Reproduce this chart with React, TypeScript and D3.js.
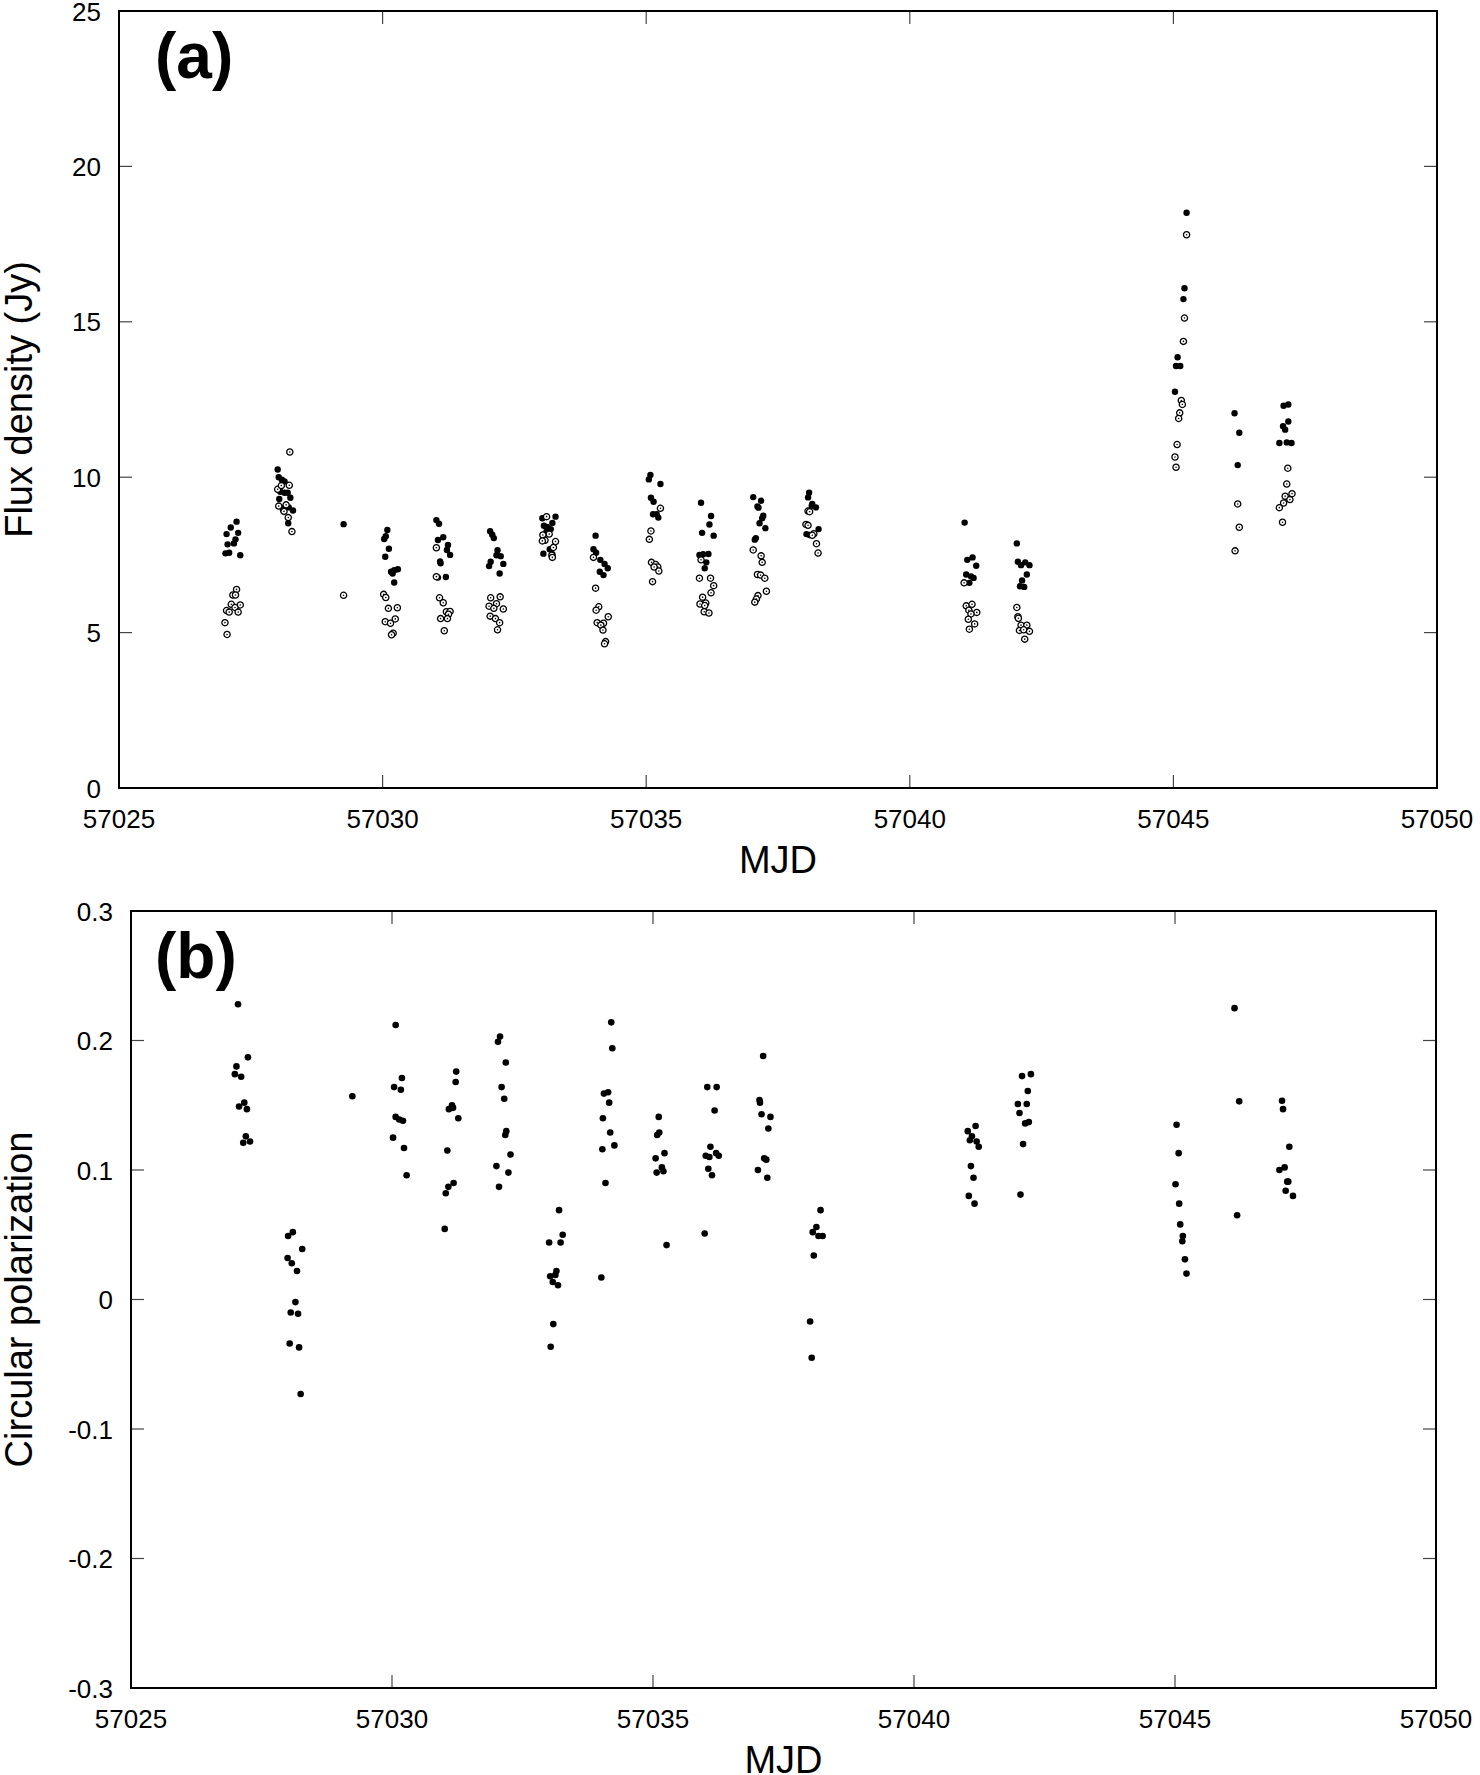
import React, { useEffect, useRef } from 'react';
import * as d3 from 'd3';

type Pt = [number, number];

// panel (a): flux density, filled dots
const fluxFilled: Pt[] = [
  [57027.23, 8.57], [57027.12, 8.38], [57027.04, 8.17], [57027.26, 8.21], [57027.21, 8.0], [57027.06, 7.84], [57027.18, 7.87], [57027.02, 7.55], [57027.09, 7.57], [57027.3, 7.49],
  [57028.01, 10.25], [57028.03, 10.0], [57028.09, 9.92], [57028.14, 9.86], [57028.06, 9.53], [57028.14, 9.5], [57028.2, 9.5], [57028.25, 9.34], [57028.04, 9.3], [57028.14, 9.03], [57028.22, 9.03], [57028.3, 8.93], [57028.11, 8.95], [57028.21, 8.52],
  [57029.26, 8.49],
  [57030.09, 8.3], [57030.06, 8.1], [57030.03, 8.01], [57030.12, 7.7], [57030.05, 7.44], [57030.16, 6.96], [57030.22, 7.01], [57030.29, 7.04], [57030.19, 6.9], [57030.22, 6.61],
  [57031.02, 8.62], [57031.07, 8.5], [57031.15, 8.07], [57031.05, 7.98], [57031.24, 7.82], [57031.22, 7.66], [57031.28, 7.5], [57031.09, 7.29], [57031.1, 7.23], [57031.2, 6.79], [57031.05, 6.77],
  [57032.04, 8.26], [57032.08, 8.15], [57032.11, 8.04], [57032.18, 7.65], [57032.16, 7.49], [57032.24, 7.46], [57032.05, 7.28], [57032.29, 7.21], [57032.02, 7.14], [57032.22, 6.9],
  [57033.03, 8.68], [57033.28, 8.73], [57033.06, 8.44], [57033.12, 8.4], [57033.22, 8.53], [57033.11, 8.26], [57033.19, 8.33], [57033.05, 7.54], [57033.17, 7.68], [57033.22, 7.52],
  [57034.04, 8.12], [57034.0, 7.68], [57034.05, 7.57], [57034.13, 7.34], [57034.21, 7.21], [57034.27, 7.07], [57034.12, 6.96], [57034.19, 6.85],
  [57035.08, 10.07], [57035.05, 9.93], [57035.27, 9.78], [57035.09, 9.34], [57035.14, 9.21], [57035.13, 8.81], [57035.2, 8.81], [57035.23, 8.7],
  [57036.04, 9.18], [57036.23, 8.75], [57036.2, 8.48], [57036.06, 8.21], [57036.28, 8.12], [57036.01, 7.5], [57036.08, 7.52], [57036.18, 7.53], [57036.14, 7.26], [57036.11, 7.07],
  [57037.03, 9.36], [57037.18, 9.24], [57037.11, 9.06], [57037.13, 9.02], [57037.22, 8.76], [57037.2, 8.68], [57037.15, 8.52], [57037.26, 8.36], [57037.08, 8.04], [57037.06, 7.99],
  [57038.09, 9.5], [57038.07, 9.35], [57038.15, 9.14], [57038.22, 9.03], [57038.14, 9.08], [57038.27, 8.33], [57038.04, 8.17], [57038.1, 8.14],
  [57041.04, 8.54], [57041.09, 7.34], [57041.19, 7.42], [57041.26, 7.15], [57041.07, 6.87], [57041.16, 6.81], [57041.21, 6.76], [57041.13, 6.6],
  [57042.03, 7.87], [57042.05, 7.28], [57042.11, 7.17], [57042.19, 7.26], [57042.27, 7.17], [57042.22, 6.87], [57042.13, 6.68], [57042.09, 6.49], [57042.17, 6.47],
  [57045.25, 18.51], [57045.21, 16.08], [57045.19, 15.73], [57045.08, 13.86], [57045.05, 13.58], [57045.13, 13.58], [57045.03, 12.75],
  [57046.16, 12.06], [57046.25, 11.43], [57046.22, 10.39],
  [57047.09, 12.3], [57047.18, 12.34], [57047.18, 11.79], [57047.08, 11.64], [57047.12, 11.53], [57047.01, 11.1], [57047.15, 11.12], [57047.24, 11.1],
];

// panel (a): flux density, open circles
const fluxOpen: Pt[] = [
  [57027.23, 6.39], [57027.16, 6.21], [57027.21, 6.21], [57027.13, 5.91], [57027.3, 5.89], [57027.2, 5.81], [57027.04, 5.71], [57027.09, 5.66], [57027.26, 5.66], [57027.01, 5.32], [57027.05, 4.94],
  [57028.24, 10.81], [57028.23, 9.74], [57028.01, 9.61], [57028.08, 9.73], [57028.03, 9.07], [57028.17, 9.11], [57028.21, 8.7], [57028.13, 8.9], [57028.28, 8.25],
  [57029.26, 6.2],
  [57030.02, 6.23], [57030.06, 6.13], [57030.11, 5.78], [57030.28, 5.8], [57030.24, 5.44], [57030.05, 5.35], [57030.15, 5.3], [57030.2, 4.98], [57030.17, 4.93],
  [57031.02, 7.73], [57031.02, 6.8], [57031.08, 6.12], [57031.15, 5.96], [57031.21, 5.67], [57031.28, 5.68], [57031.25, 5.59], [57031.1, 5.45], [57031.23, 5.45], [57031.17, 5.06],
  [57032.05, 6.12], [57032.23, 6.15], [57032.16, 5.93], [57032.02, 5.85], [57032.11, 5.78], [57032.29, 5.76], [57032.04, 5.53], [57032.14, 5.45], [57032.22, 5.32], [57032.18, 5.09],
  [57033.11, 8.73], [57033.16, 8.17], [57033.04, 8.14], [57033.08, 7.97], [57033.03, 7.95], [57033.28, 7.93], [57033.24, 7.74], [57033.21, 7.49], [57033.22, 7.42],
  [57034.0, 7.42], [57034.04, 6.43], [57034.1, 5.83], [57034.05, 5.72], [57034.28, 5.51], [57034.07, 5.32], [57034.19, 5.3], [57034.14, 5.24], [57034.18, 5.08], [57034.23, 4.71], [57034.21, 4.64],
  [57035.27, 9.0], [57035.09, 8.27], [57035.06, 8.0], [57035.1, 7.26], [57035.18, 7.19], [57035.22, 7.11], [57035.15, 7.11], [57035.24, 6.98], [57035.12, 6.64],
  [57036.04, 7.34], [57036.01, 6.75], [57036.22, 6.75], [57036.28, 6.51], [57036.23, 6.28], [57036.07, 6.14], [57036.02, 5.92], [57036.13, 5.95], [57036.11, 5.87], [57036.1, 5.67], [57036.19, 5.63],
  [57037.03, 7.66], [57037.18, 7.47], [57037.2, 7.26], [57037.11, 6.87], [57037.17, 6.85], [57037.25, 6.75], [57037.28, 6.33], [57037.12, 6.19], [57037.09, 6.08], [57037.06, 5.98],
  [57038.07, 8.91], [57038.1, 8.89], [57038.03, 8.48], [57038.07, 8.45], [57038.18, 8.18], [57038.15, 8.13], [57038.23, 7.86], [57038.26, 7.56],
  [57041.03, 6.6], [57041.07, 5.86], [57041.18, 5.91], [57041.12, 5.72], [57041.27, 5.65], [57041.16, 5.6], [57041.11, 5.43], [57041.23, 5.28], [57041.13, 5.11],
  [57042.03, 5.81], [57042.05, 5.51], [57042.06, 5.46], [57042.11, 5.24], [57042.22, 5.24], [57042.08, 5.07], [57042.27, 5.04], [57042.16, 5.09], [57042.18, 4.79],
  [57045.25, 17.8], [57045.21, 15.12], [57045.19, 14.37], [57045.15, 12.47], [57045.17, 12.34], [57045.12, 12.07], [57045.1, 11.89], [57045.07, 11.05], [57045.03, 10.65], [57045.05, 10.32],
  [57046.22, 9.14], [57046.25, 8.39], [57046.17, 7.63],
  [57047.17, 10.29], [57047.15, 9.78], [57047.12, 9.39], [57047.25, 9.47], [57047.21, 9.28], [57047.09, 9.17], [57047.01, 9.02], [57047.07, 8.55],
];

// panel (b): circular polarization
const circPol: Pt[] = [
  [57027.05, 0.228], [57027.24, 0.187], [57027.02, 0.18], [57026.99, 0.174], [57027.11, 0.172], [57027.07, 0.149], [57027.17, 0.152], [57027.22, 0.147], [57027.2, 0.126], [57027.15, 0.121], [57027.28, 0.122],
  [57028.1, 0.052], [57028.01, 0.049], [57028.28, 0.039], [57028.0, 0.032], [57028.08, 0.028], [57028.18, 0.022], [57028.15, -0.002], [57028.06, -0.01], [57028.2, -0.011], [57028.04, -0.034], [57028.22, -0.037], [57028.25, -0.073],
  [57029.24, 0.157],
  [57030.07, 0.212], [57030.19, 0.171], [57030.04, 0.164], [57030.17, 0.162], [57030.07, 0.141], [57030.14, 0.139], [57030.21, 0.138], [57030.02, 0.125], [57030.23, 0.117], [57030.28, 0.096],
  [57031.23, 0.176], [57031.22, 0.168], [57031.15, 0.15], [57031.09, 0.147], [57031.17, 0.148], [57031.27, 0.14], [57031.06, 0.115], [57031.18, 0.09], [57031.08, 0.087], [57031.03, 0.082], [57031.01, 0.0545],
  [57032.07, 0.203], [57032.03, 0.199], [57032.18, 0.183], [57032.1, 0.164], [57032.15, 0.155], [57032.19, 0.13], [57032.17, 0.127], [57032.27, 0.112], [57032.0, 0.103], [57032.23, 0.098], [57032.05, 0.087],
  [57033.2, 0.069], [57033.27, 0.05], [57033.01, 0.044], [57033.23, 0.044], [57033.15, 0.022], [57033.13, 0.019], [57033.03, 0.018], [57033.08, 0.0135], [57033.18, 0.011], [57033.09, -0.019], [57033.04, -0.0365],
  [57034.2, 0.214], [57034.22, 0.194], [57034.06, 0.159], [57034.14, 0.16], [57034.16, 0.152], [57034.04, 0.14], [57034.18, 0.129], [57034.03, 0.116], [57034.26, 0.119], [57034.09, 0.09], [57034.01, 0.017],
  [57035.11, 0.141], [57035.12, 0.129], [57035.08, 0.127], [57035.22, 0.113], [57035.05, 0.109], [57035.17, 0.102], [57035.2, 0.099], [57035.07, 0.098], [57035.26, 0.042],
  [57036.04, 0.164], [57036.22, 0.164], [57036.18, 0.146], [57036.1, 0.118], [57036.01, 0.111], [57036.08, 0.11], [57036.21, 0.113], [57036.26, 0.111], [57036.06, 0.101], [57036.13, 0.096], [57035.99, 0.051],
  [57037.11, 0.188], [57037.04, 0.154], [57037.05, 0.152], [57037.08, 0.143], [57037.25, 0.141], [57037.21, 0.132], [57037.13, 0.109], [57037.17, 0.108], [57037.01, 0.1], [57037.19, 0.094],
  [57038.21, 0.069], [57038.13, 0.056], [57038.06, 0.052], [57038.17, 0.049], [57038.25, 0.049], [57038.08, 0.034], [57038.01, -0.017], [57038.04, -0.045],
  [57041.18, 0.134], [57041.03, 0.13], [57041.11, 0.126], [57041.07, 0.123], [57041.2, 0.122], [57041.24, 0.118], [57041.09, 0.103], [57041.14, 0.094], [57041.05, 0.08], [57041.16, 0.074],
  [57042.07, 0.1725], [57042.24, 0.174], [57042.18, 0.161], [57041.99, 0.151], [57042.16, 0.151], [57042.02, 0.144], [57042.13, 0.136], [57042.2, 0.137], [57042.09, 0.12], [57042.04, 0.081],
  [57045.03, 0.135], [57045.07, 0.113], [57045.01, 0.089], [57045.08, 0.074], [57045.1, 0.058], [57045.15, 0.049], [57045.14, 0.045], [57045.19, 0.031], [57045.22, 0.02],
  [57046.14, 0.225], [57046.23, 0.153], [57046.19, 0.065],
  [57047.05, 0.1535], [57047.07, 0.147], [57047.19, 0.118], [57047.0, 0.1], [57047.1, 0.102], [57047.15, 0.091], [57047.17, 0.091], [57047.12, 0.084], [57047.26, 0.08],
];

const mjdTicks = [57025, 57030, 57035, 57040, 57045, 57050];
const fluxTicks = [0, 5, 10, 15, 20, 25];
const polTicks = [-0.3, -0.2, -0.1, 0, 0.1, 0.2, 0.3];

const FONT = '"Liberation Sans", Arial, Helvetica, sans-serif';

export default function App() {
  const svgRef = useRef<SVGSVGElement | null>(null);

  useEffect(() => {
    if (!svgRef.current) return;
    const svg = d3.select(svgRef.current);
    svg.selectAll('*').remove();

    const drawFrame = (
      x: d3.ScaleLinear<number, number>,
      y: d3.ScaleLinear<number, number>,
      yTicks: number[],
      yFmt: (d: number) => string,
      yTitle: string,
      panel: string,
    ) => {
      const [x0, x1] = x.range();
      const [y0, y1] = y.range(); // y0 bottom, y1 top
      const g = svg.append('g').attr('font-family', FONT);

      // ticks point inward, mirrored on all four sides
      const tl = 13;
      g.selectAll('.xt')
        .data(mjdTicks.slice(1, -1))
        .join('g')
        .each(function (d) {
          const sel = d3.select(this);
          sel.append('line').attr('x1', x(d)).attr('x2', x(d)).attr('y1', y0).attr('y2', y0 - tl);
          sel.append('line').attr('x1', x(d)).attr('x2', x(d)).attr('y1', y1).attr('y2', y1 + tl);
        })
        .attr('stroke', '#444')
        .attr('stroke-width', 1.2);

      g.selectAll('.yt')
        .data(yTicks.slice(1, -1))
        .join('g')
        .each(function (d) {
          const sel = d3.select(this);
          sel.append('line').attr('x1', x0).attr('x2', x0 + tl).attr('y1', y(d)).attr('y2', y(d));
          sel.append('line').attr('x1', x1).attr('x2', x1 - tl).attr('y1', y(d)).attr('y2', y(d));
        })
        .attr('stroke', '#444')
        .attr('stroke-width', 1.2);

      g.append('rect')
        .attr('x', x0)
        .attr('y', y1)
        .attr('width', x1 - x0)
        .attr('height', y0 - y1)
        .attr('fill', 'none')
        .attr('stroke', '#000')
        .attr('stroke-width', 2);

      // tick labels
      g.selectAll('.xl')
        .data(mjdTicks)
        .join('text')
        .attr('x', (d) => x(d))
        .attr('y', y0 + 40)
        .attr('text-anchor', 'middle')
        .attr('font-size', 26)
        .text((d) => d);

      g.selectAll('.yl')
        .data(yTicks)
        .join('text')
        .attr('x', x0 - 18)
        .attr('y', (d) => y(d))
        .attr('dy', '0.37em')
        .attr('text-anchor', 'end')
        .attr('font-size', 26)
        .text((d) => yFmt(d));

      // axis titles
      g.append('text')
        .attr('x', (x0 + x1) / 2)
        .attr('y', y0 + 85)
        .attr('text-anchor', 'middle')
        .attr('font-size', 38)
        .text('MJD');

      g.append('text')
        .attr('transform', `translate(32, ${(y0 + y1) / 2}) rotate(-90)`)
        .attr('text-anchor', 'middle')
        .attr('font-size', 38)
        .text(yTitle);

      g.append('text')
        .attr('x', 155)
        .attr('y', y1 + 67)
        .attr('font-size', 64)
        .attr('font-weight', 'bold')
        .text(panel);
    };

    // Panel (a)
    const xa = d3.scaleLinear().domain([57025, 57050]).range([119, 1437]);
    const ya = d3.scaleLinear().domain([0, 25]).range([788, 11]);
    drawFrame(xa, ya, fluxTicks, (d) => `${d}`, 'Flux density (Jy)', '(a)');

    svg.append('g')
      .selectAll('circle')
      .data(fluxFilled)
      .join('circle')
      .attr('cx', (d) => xa(d[0]))
      .attr('cy', (d) => ya(d[1]))
      .attr('r', 3.2)
      .attr('fill', '#000');

    const open = svg.append('g')
      .selectAll('g')
      .data(fluxOpen)
      .join('g')
      .attr('transform', (d) => `translate(${xa(d[0])}, ${ya(d[1])})`);
    open.append('circle').attr('r', 3.1).attr('fill', '#fff').attr('stroke', '#000').attr('stroke-width', 1.3);
    open.append('circle').attr('r', 0.8).attr('fill', '#000');

    // Panel (b)
    const xb = d3.scaleLinear().domain([57025, 57050]).range([131, 1436]);
    const yb = d3.scaleLinear().domain([-0.3, 0.3]).range([1688, 911]);
    drawFrame(xb, yb, polTicks, (d) => (d === 0 ? '0' : d.toFixed(1)), 'Circular polarization', '(b)');

    svg.append('g')
      .selectAll('circle')
      .data(circPol)
      .join('circle')
      .attr('cx', (d) => xb(d[0]))
      .attr('cy', (d) => yb(d[1]))
      .attr('r', 3.3)
      .attr('fill', '#000');
  }, []);

  return (
    <svg
      ref={svgRef}
      width={1480}
      height={1775}
      style={{ position: 'absolute', left: 0, top: 0, background: '#fff' }}
    ></svg>
  );
}
